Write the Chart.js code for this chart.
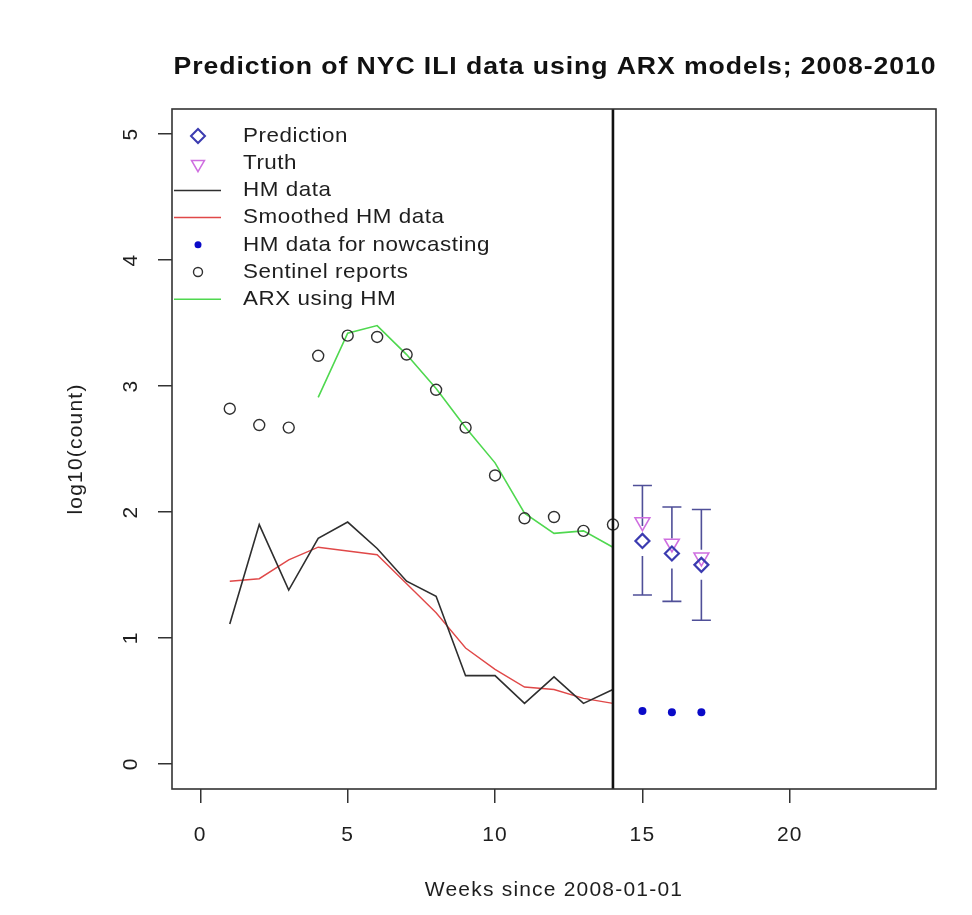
<!DOCTYPE html>
<html><head><meta charset="utf-8">
<script src="https://cdn.jsdelivr.net/npm/chart.js@4.4.1/dist/chart.umd.min.js"></script>
<style>html,body{margin:0;padding:0;background:#fff;}canvas{display:block;}</style>
</head><body>
<canvas id="c" width="972" height="915"></canvas>
<script>
// ---- data ----
const weeks      = [1,2,3,4,5,6,7,8,9,10,11,12,13,14];
const hmData     = [1.11,1.90,1.38,1.79,1.92,1.71,1.45,1.33,0.70,0.70,0.48,0.69,0.48,0.59];
const smoothedHM = [1.45,1.47,1.62,1.72,1.69,1.66,1.43,1.20,0.92,0.75,0.61,0.59,0.52,0.48];
const sentinel   = [2.82,2.69,2.67,3.24,3.40,3.39,3.25,2.97,2.67,2.29,1.95,1.96,1.85,1.90];
const arxWeeks   = [4,5,6,7,8,9,10,11,12,13,14];
const arxHM      = [2.91,3.42,3.48,3.25,2.98,2.67,2.39,1.99,1.83,1.85,1.72];
const predWeeks  = [15,16,17];
const prediction = [1.77,1.67,1.58];
const truth      = [1.92,1.75,1.64];
const predLower  = [1.34,1.29,1.14];
const predUpper  = [2.21,2.04,2.02];
const nowcastHM  = [0.42,0.41,0.41];
const cutoffWeek = 14;
const xTicks = [0,5,10,15,20];
const yTicks = [0,1,2,3,4,5];
const xRange = [-0.96, 24.96];
const yRange = [-0.2, 5.2];
const titleText = 'Prediction of NYC ILI data using ARX models; 2008-2010';
const xTitle = 'Weeks since 2008-01-01';
const yTitle = 'log10(count)';
const legendLabels = ['Prediction','Truth','HM data','Smoothed HM data','HM data for nowcasting','Sentinel reports','ARX using HM'];

// ---- styles ----
const FF = '"Liberation Sans", Arial, Helvetica, sans-serif';
const C = {hm:'#2e2e2e', smooth:'#e04848', arx:'#4fd84f', sentinel:'#303030', now:'#0a0ac8', pred:'#3b3bb0', truth:'#cf6fe0', ci:'#4f4f98', text:'#1e1e1e', axis:'#333333'};
const xy = (xs, ys) => xs.map((x,i)=>({x:x, y:ys[i]}));

function diamond(ctx,x,y,r){ctx.beginPath();ctx.moveTo(x-r,y);ctx.lineTo(x,y-r);ctx.lineTo(x+r,y);ctx.lineTo(x,y+r);ctx.closePath();ctx.stroke();}
function downTri(ctx,x,y,r){ctx.beginPath();ctx.moveTo(x,y+r);ctx.lineTo(x+r*0.866,y-r*0.5);ctx.lineTo(x-r*0.866,y-r*0.5);ctx.closePath();ctx.stroke();}
// draw text left-aligned, stretched horizontally by sx
function stretchText(ctx, txt, x, y, sx){ ctx.save(); ctx.translate(x, y); ctx.scale(sx, 1); ctx.fillText(txt, 0, 0); ctx.restore(); }

const decor = {
  id:'decor',
  beforeDraw(chart){ chart.ctx.letterSpacing = '1.2px'; },
  beforeDatasetsDraw(chart){
    const ctx = chart.ctx, xs = chart.scales.x, ys = chart.scales.y;
    ctx.save();
    ctx.strokeStyle = C.ci; ctx.lineWidth = 1.6;
    const gap = 15, cap = 9.5;
    predWeeks.forEach((w,i)=>{
      const px = xs.getPixelForValue(w);
      const pu = ys.getPixelForValue(predUpper[i]);
      const pl = ys.getPixelForValue(predLower[i]);
      const pm = ys.getPixelForValue(prediction[i]);
      ctx.beginPath();
      ctx.moveTo(px,pu); ctx.lineTo(px,pm-gap);
      ctx.moveTo(px,pm+gap); ctx.lineTo(px,pl);
      ctx.moveTo(px-cap,pu); ctx.lineTo(px+cap,pu);
      ctx.moveTo(px-cap,pl); ctx.lineTo(px+cap,pl);
      ctx.stroke();
    });
    ctx.restore();
  },
  afterDraw(chart){
    const ctx = chart.ctx, a = chart.chartArea, xs = chart.scales.x;
    ctx.save();
    // cutoff line
    const cx = xs.getPixelForValue(cutoffWeek);
    ctx.strokeStyle = '#111'; ctx.lineWidth = 2.6;
    ctx.beginPath(); ctx.moveTo(cx,a.top); ctx.lineTo(cx,a.bottom); ctx.stroke();
    // box
    ctx.strokeStyle = C.axis; ctx.lineWidth = 1.6;
    ctx.strokeRect(a.left, a.top, a.right-a.left, a.bottom-a.top);
    // title
    ctx.fillStyle = '#111';
    ctx.font = 'bold 23px ' + FF;
    ctx.letterSpacing = '0.8px';
    ctx.textAlign = 'left'; ctx.textBaseline = 'middle';
    const targetW = 763;
    const tw0 = ctx.measureText(titleText).width;
    stretchText(ctx, titleText, (a.left+a.right)/2 + 1 - targetW/2, 68, targetW/tw0);
    // legend
    ctx.font = '21px ' + FF;
    ctx.letterSpacing = '0.5px';
    const lsx = 247 / ctx.measureText(legendLabels[4]).width;
    const lx = a.left, sx = a.left + 26, tx = a.left + 71, ty0 = a.top + 27, dy = 27.2;
    const Y = i => ty0 + i*dy;
    ctx.fillStyle = C.text;
    legendLabels.forEach((lab,i)=>{ stretchText(ctx, lab, tx, Y(i), lsx); });
    ctx.lineWidth = 2; ctx.strokeStyle = C.pred; diamond(ctx, sx, Y(0), 7);
    ctx.lineWidth = 1.5; ctx.strokeStyle = C.truth; downTri(ctx, sx, Y(1)+1, 7.5);
    [[2,C.hm],[3,C.smooth],[6,C.arx]].forEach(([i,col])=>{
      ctx.strokeStyle = col; ctx.lineWidth = 1.5;
      ctx.beginPath(); ctx.moveTo(lx+2, Y(i)); ctx.lineTo(lx+49, Y(i)); ctx.stroke();
    });
    ctx.fillStyle = C.now; ctx.beginPath(); ctx.arc(sx, Y(4), 3.5, 0, Math.PI*2); ctx.fill();
    ctx.strokeStyle = C.sentinel; ctx.lineWidth = 1.4; ctx.beginPath(); ctx.arc(sx, Y(5), 4.5, 0, Math.PI*2); ctx.stroke();
    ctx.restore();
  }
};

const lineDs = (label, xs, ys, col, w) => ({label, data: xy(xs, ys), showLine:true, borderColor:col, borderWidth:w, pointRadius:0, pointHoverRadius:0, fill:false, tension:0});

new Chart(document.getElementById('c'), {
  type:'scatter',
  data:{ datasets:[
    {label:'Prediction', data: xy(predWeeks, prediction), showLine:false, pointStyle:'rectRot', pointRadius:7, pointBorderColor:C.pred, pointBackgroundColor:'rgba(0,0,0,0)', pointBorderWidth:2.2},
    {label:'Truth', data: xy(predWeeks, truth), showLine:false, pointStyle:'triangle', pointRotation:180, pointRadius:8.5, pointBorderColor:C.truth, pointBackgroundColor:'rgba(0,0,0,0)', pointBorderWidth:1.6},
    {label:'HM data for nowcasting', data: xy(predWeeks, nowcastHM), showLine:false, pointStyle:'circle', pointRadius:4, pointBorderColor:C.now, pointBackgroundColor:C.now, pointBorderWidth:0},
    {label:'Sentinel reports', data: xy(weeks, sentinel), showLine:false, pointStyle:'circle', pointRadius:5.5, pointBorderColor:C.sentinel, pointBackgroundColor:'rgba(0,0,0,0)', pointBorderWidth:1.4},
    lineDs('ARX using HM', arxWeeks, arxHM, C.arx, 1.6),
    lineDs('HM data', weeks, hmData, C.hm, 1.6),
    lineDs('Smoothed HM data', weeks, smoothedHM, C.smooth, 1.4)
  ]},
  options:{
    responsive:false, animation:false, devicePixelRatio:1,
    layout:{padding:{top:109, right:36, bottom:0, left:0}},
    plugins:{legend:{display:false}, title:{display:false}, tooltip:{enabled:false}},
    events:[],
    scales:{
      x:{type:'linear', min:xRange[0], max:xRange[1],
        afterBuildTicks: s => { s.ticks = xTicks.map(v=>({value:v})); },
        afterFit: s => { s.height = 126; },
        grid:{display:true, drawOnChartArea:false, drawTicks:true, tickLength:14, color:C.axis, lineWidth:1.5},
        border:{display:false},
        ticks:{padding:20, autoSkip:false, maxRotation:0, color:C.text, font:{size:21, family:FF}},
        title:{display:true, text:xTitle, color:C.text, font:{size:21, family:FF}, padding:{top:0, bottom:12}}
      },
      y:{type:'linear', min:yRange[0], max:yRange[1],
        afterBuildTicks: s => { s.ticks = yTicks.map(v=>({value:v})); },
        afterFit: s => { s.width = 172; },
        grid:{display:true, drawOnChartArea:false, drawTicks:true, tickLength:14, color:C.axis, lineWidth:1.5},
        border:{display:false},
        ticks:{padding:21, autoSkip:false, minRotation:90, maxRotation:90, crossAlign:'center', color:C.text, font:{size:21, family:FF}},
        title:{display:true, text:yTitle, color:C.text, font:{size:21, family:FF}, padding:{top:64, bottom:0}}
      }
    }
  },
  plugins:[decor]
});
</script>
</body></html>
